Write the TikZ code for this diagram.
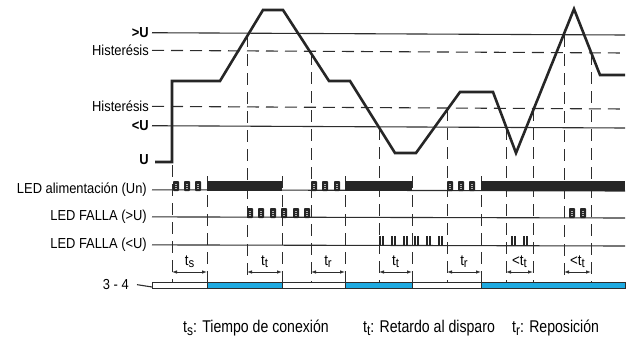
\documentclass[tikz,border=0pt]{standalone}
\usepackage{fontspec}
\usepackage{graphicx}
\setmainfont{Liberation Sans}[FakeStretch=0.89]
\newfontfamily\legfont{Liberation Sans}[FakeStretch=0.83]
\usetikzlibrary{arrows.meta}
\definecolor{relayblue}{RGB}{30,170,225}
\definecolor{linegray}{RGB}{45,45,45}
\newcommand{\tsub}[1]{t\raisebox{-0.18em}{\scalebox{0.85}{#1}}}

\begin{document}
\begin{tikzpicture}[x=1pt,y=-1pt,
    lbl/.style={anchor=mid east,inner sep=0pt,font=\fontsize{14.5}{16}\selectfont},
    leg/.style={anchor=mid west,inner sep=0pt,font=\legfont\fontsize{17}{19}\selectfont},
    tlab/.style={anchor=base,inner sep=0pt,font=\fontsize{15}{17}\selectfont},
    thr/.style={linegray,line width=1.1pt},
    hys/.style={linegray,line width=1.1pt,dash pattern=on 12pt off 7pt},
    vdash/.style={linegray,line width=1pt,dash pattern=on 12pt off 7pt},
    dim/.style={linegray,line width=0.8pt,{Latex[length=5pt,width=3.5pt]}-{Latex[length=5pt,width=3.5pt]}},
    wave/.style={black!85,line width=2.6pt,line join=miter},
    blink/.style={fill=black!85,rounded corners=0.8pt}]
  \useasboundingbox (0,0) rectangle (633,340);

  % threshold levels
  \node[lbl,font=\bfseries\fontsize{14.5}{16}\selectfont] (lUp) at (149,35) {>U};
  \node[lbl] (lHup) at (149,53) {Histerésis};
  \node[lbl] (lHlo) at (149,109) {Histerésis};
  \node[lbl,font=\bfseries\fontsize{14.5}{16}\selectfont] (lUlo) at (149,128) {<U};
  \node[lbl,font=\bfseries\fontsize{14.5}{16}\selectfont] (lU) at (149,162) {U};
  \draw[thr] ([xshift=3pt]lUp.east) -- (625,35);
  \draw[hys] ([xshift=3pt]lHup.east) -- (625,53);
  \draw[hys] ([xshift=3pt]lHlo.east) -- (625,109);
  \draw[thr] ([xshift=3pt]lUlo.east) -- (625,128);

  % LED rows and relay
  \node[lbl] (lLed) at (147,191) {LED alimentación (Un)};
  \node[lbl] (lHi) at (147,218) {LED FALLA (>U)};
  \node[lbl] (lLo) at (147,246) {LED FALLA (<U)};
  \node[lbl] (lRel) at (129,287) {3 - 4};
  \draw[thr] ([xshift=5pt]lLed.east) -- (625,191);
  \draw[thr] ([xshift=5pt]lHi.east) -- (625,218);
  \draw[thr] ([xshift=5pt]lLo.east) -- (625,246);
  \draw[thr] ([xshift=8pt]lRel.east) -- (152,287);

  % dashed time marks
  \foreach \x/\y in {172/165,207/176,247/35,282/176,311/53,345/176,379/128,
                     412/176,447/109,481/176,506/128,533/109,564/35,591/53}
    \draw[vdash] (\x,\y) -- (\x,282);

  % supply voltage
  \draw[wave] (155,162) -- (172,162) -- (172,81) -- (220,81) -- (263,10) -- (283,10)
    -- (329,81) -- (350,81) -- (395,153) -- (416,153) -- (460,92) -- (493,92)
    -- (516,153) -- (574,9) -- (600,75) -- (625,75);

  % LED alimentacion
  \foreach \x in {173,184,195,311,322,334,447,458,469}{
    \fill[blink] (\x,181) rectangle ++(6,10);
    \foreach \d in {3.5,5.5,7.5}
      \draw[gray!60,line width=0.5pt] (\x+2,181+\d) -- ++(2.2,0);
  }
  \fill[black!85] (207,181) rectangle (282,191);
  \fill[black!85] (345,181) rectangle (412,191);
  \fill[black!85] (481,181) rectangle (625,191);

  % LED FALLA >U
  \foreach \x in {247,258,270,281,293,304,569,580}{
    \fill[blink] (\x,208) rectangle ++(6,10);
    \foreach \d in {3.5,5.5,7.5}
      \draw[gray!60,line width=0.5pt] (\x+2,208+\d) -- ++(2.2,0);
  }

  % LED FALLA <U
  \foreach \x in {379,391,403,414,426,438,511,523}{
    \fill[black!85] (\x,236) rectangle ++(1.7,10);
    \fill[black!85] (\x+3.2,236) rectangle ++(1.7,10);
  }

  % delays
  \foreach \a/\b/\t [count=\i] in {172/207/\tsub{s},247/282/\tsub{t},311/345/\tsub{r},
      379/412/\tsub{t},447/481/\tsub{r},506/533/<\tsub{t},564/591/<\tsub{t}}{
    \coordinate (s\i) at (\a,272);
    \coordinate (e\i) at (\b,272);
    \draw[dim] (s\i) -- (e\i);
    \node[tlab] (d\i) at ({(\a+\b)/2},265) {\t};
  }

  % relay 3-4
  \foreach \a/\b in {152/207,282/345,412/481}
    \draw[linegray,line width=0.9pt,fill=white] (\a,282) rectangle (\b,288);
  \foreach \a/\b in {207/282,345/412,481/625}
    \draw[linegray,line width=0.9pt,fill=relayblue] (\a,282) rectangle (\b,288);

  % legend
  \node[leg] (kS) at (183,330) {\tsub{s}: Tiempo de conexión};
  \node[leg] (kT) at (363,330) {\tsub{t}: Retardo al disparo};
  \node[leg] (kR) at (512,330) {\tsub{r}: Reposición};
\end{tikzpicture}
\end{document}
